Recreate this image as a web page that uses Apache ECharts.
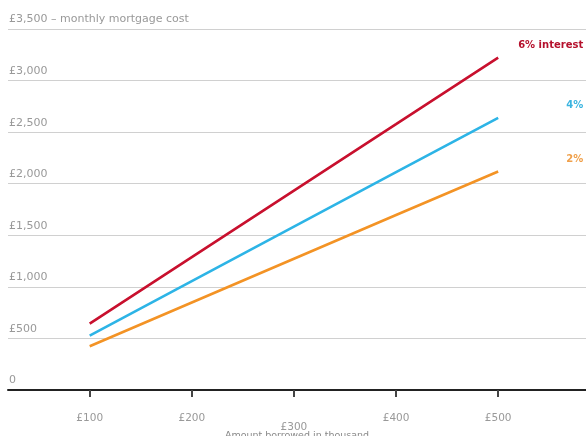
<!DOCTYPE html>
<html><head><meta charset="utf-8">
<script src="https://cdn.jsdelivr.net/npm/echarts@6/dist/echarts.min.js"></script>
<style>html,body{margin:0;padding:0;background:#fff}#c{width:586px;height:436px}</style>
</head><body><div id="c"></div>
<script>
var borrowed = [100, 200, 300, 400, 500];
var rate6 = [644, 1289, 1933, 2577, 3222];
var rate4 = [528, 1056, 1584, 2112, 2639];
var rate2 = [424, 848, 1272, 1696, 2119];
var xTicks = [100, 200, 300, 400, 500];
var seriesNames = ['6% interest', '4%', '2%'];

var FONT = 'DejaVu Sans';
function pairs(v){ return borrowed.map(function(b,i){ return [b, v[i]]; }); }
function fmtY(v){
  if (v === 0) return '0';
  var s = '£' + v.toLocaleString('en-GB');
  if (v === 3500) s += ' – monthly mortgage cost';
  return s;
}
function mk(name, vals, color, labelColor){
  return {
    name: name, type: 'line', data: pairs(vals), showSymbol: false, symbol: 'none',
    lineStyle: {color: color, width: 2.6}, itemStyle: {color: color},
    endLabel: {show: true, formatter: name, color: labelColor, fontWeight: 'bold',
      fontFamily: FONT, fontSize: 10, align: 'right', verticalAlign: 'middle',
      distance: 5, offset: [80, -12]},
    animation: false
  };
}
var chart = echarts.init(document.getElementById('c'));
chart.setOption({
  animation: false,
  grid: {left: 8, right: 0, top: 29, bottom: 46, containLabel: false, outerBoundsMode: 'none'},
  xAxis: {
    type: 'value', min: 20, max: 586,
    axisLine: {show: true, lineStyle: {color: '#222', width: 2}},
    axisTick: {show: true, customValues: xTicks, length: 7, lineStyle: {color: '#444', width: 2}},
    axisLabel: {customValues: xTicks, margin: 23, color: '#999', fontFamily: FONT, fontSize: 10.5,
      formatter: function(v){ return v === 300 ? '{d|£' + v + '}' : '£' + v; },
      rich: {d: {padding: [9, 0, 0, 0], color: '#999', fontFamily: FONT, fontSize: 10.5}}},
    splitLine: {show: false},
    name: 'Amount borrowed in thousand', nameLocation: 'middle', nameGap: 41, nameMoveOverlap: false,
    nameTextStyle: {color: '#888', fontFamily: FONT, fontSize: 9.5}
  },
  yAxis: {
    type: 'value', min: 0, max: 3500, interval: 500,
    axisLine: {show: false}, axisTick: {show: false},
    axisLabel: {inside: true, verticalAlign: 'bottom', margin: 1, padding: [0, 0, 4, 0],
      color: '#999', fontFamily: FONT, fontSize: 11, formatter: fmtY},
    splitLine: {lineStyle: {color: '#d0d0d0', width: 1}}
  },
  series: [
    mk(seriesNames[0], rate6, '#c8102e', '#b5102c'),
    mk(seriesNames[1], rate4, '#2db4e6', '#3ab4e0'),
    mk(seriesNames[2], rate2, '#f39325', '#f0a04a')
  ]
});
</script></body></html>
